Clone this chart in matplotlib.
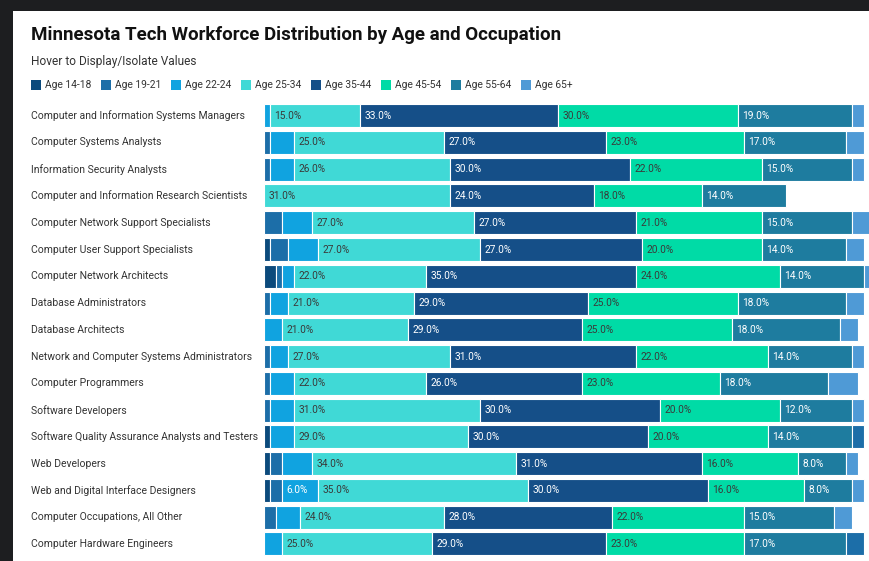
import matplotlib
matplotlib.use('Agg')
import matplotlib.pyplot as plt
from matplotlib.patches import Rectangle

occupations = [
    'Computer and Information Systems Managers',
    'Computer Systems Analysts',
    'Information Security Analysts',
    'Computer and Information Research Scientists',
    'Computer Network Support Specialists',
    'Computer User Support Specialists',
    'Computer Network Architects',
    'Database Administrators',
    'Database Architects',
    'Network and Computer Systems Administrators',
    'Computer Programmers',
    'Software Developers',
    'Software Quality Assurance Analysts and Testers',
    'Web Developers',
    'Web and Digital Interface Designers',
    'Computer Occupations, All Other',
    'Computer Hardware Engineers',
]
age_groups = ['Age 14-18', 'Age 19-21', 'Age 22-24', 'Age 25-34',
              'Age 35-44', 'Age 45-54', 'Age 55-64', 'Age 65+']

age_14_18 = [0, 0, 0, 0, 0, 1, 2, 0, 0, 0, 0, 0, 1, 1, 1, 0, 0]
age_19_21 = [0, 1, 1, 0, 3, 3, 1, 1, 0, 1, 1, 1, 2, 2, 2, 2, 3]
age_22_24 = [1, 4, 4, 0, 5, 5, 2, 3, 3, 3, 4, 4, 4, 5, 6, 4, 3]
age_25_34 = [15, 25, 26, 31, 27, 27, 22, 21, 21, 27, 22, 31, 29, 34, 35, 24, 25]
age_35_44 = [33, 27, 30, 24, 27, 27, 35, 29, 29, 31, 26, 30, 30, 31, 30, 28, 29]
age_45_54 = [30, 23, 22, 18, 21, 20, 24, 25, 25, 22, 23, 20, 20, 16, 16, 22, 23]
age_55_64 = [19, 17, 15, 14, 15, 14, 14, 18, 18, 14, 18, 12, 14, 8, 8, 15, 17]
age_65_plus = [2, 3, 2, 0, 3, 3, 1, 3, 3, 2, 5, 2, 0, 2, 2, 3, 0]

# in these rows the 19-21 segment is drawn at the end of the bar
tail_19_21 = {'Software Quality Assurance Analysts and Testers',
              'Computer Hardware Engineers'}

series = [age_14_18, age_19_21, age_22_24, age_25_34,
          age_35_44, age_45_54, age_55_64, age_65_plus]
colors = ['#0b4a7c', '#1c6ea8', '#10a3e0', '#40d9d6',
          '#154f88', '#00dba6', '#1e7c9f', '#4f9ad6']
dark_text = {3, 5}  # labels on light segments

plt.rcParams['font.family'] = ['Roboto', 'DejaVu Sans']

W, H = 869, 561
fig = plt.figure(figsize=(W / 100, H / 100), dpi=100, facecolor='#1d1e20')
fig.patches.append(Rectangle((13 / W, 0), 1, 1 - 11 / H, transform=fig.transFigure,
                             facecolor='white', edgecolor='none', zorder=-10))

# plot area: 0% at x=264 px, 6 px per percent, clipped by the right edge
x0 = 264
top, bot = 102.3, 557.3
ax = fig.add_axes([x0 / W, 1 - bot / H, (W - x0) / W, (bot - top) / H])
ax.set_facecolor('none')

n = len(occupations)
for i in range(n):
    order = list(range(len(series)))
    if occupations[i] in tail_19_21:
        order.remove(1)
        order.append(1)
    left = 0
    for k in order:
        v = series[k][i]
        if v <= 0:
            continue
        ax.barh(i, v, left=left, height=0.86, color=colors[k],
                edgecolor='white', linewidth=0.8)
        if v >= 6:
            ax.text(left + 0.7, i, f'{v:.1f}%', va='center', ha='left',
                    fontsize=7.3, color='#3a3a3a' if k in dark_text else 'white')
        left += v
    ax.text(-(x0 - 31) / 6, i, occupations[i], va='center', ha='left',
            fontsize=7.5, color='#333333')

ax.set_xlim(0, (W - x0) / 6)
ax.set_ylim(n - 0.5, -0.5)
ax.axis('off')

fig.text(31 / W, 1 - 35 / H, 'Minnesota Tech Workforce Distribution by Age and Occupation',
         fontsize=13.5, fontweight='bold', color='#111111', va='center', ha='left')
fig.text(31 / W, 1 - 62 / H, 'Hover to Display/Isolate Values',
         fontsize=8.6, color='#333333', va='center', ha='left')

for k, (name, c) in enumerate(zip(age_groups, colors)):
    lx = 31 + 70 * k
    fig.patches.append(Rectangle((lx / W, 1 - 90 / H), 10 / W, 10 / H,
                                 transform=fig.transFigure, facecolor=c,
                                 edgecolor='none'))
    fig.text((lx + 14) / W, 1 - 85 / H, name, fontsize=7.4, color='#333333',
             va='center', ha='left')

fig.savefig('out.png', dpi=100, facecolor=fig.get_facecolor())
